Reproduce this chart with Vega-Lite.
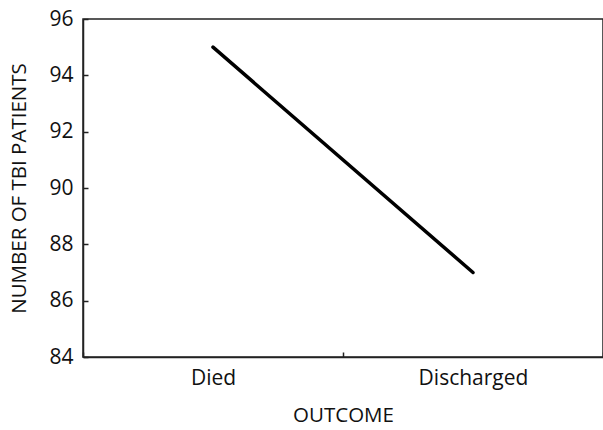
{
  "$schema": "https://vega.github.io/schema/vega-lite/v6.json",
  "width": 520,
  "height": 338,
  "autosize": {"type": "none"},
  "padding": {"left": 83, "top": 19, "right": 0, "bottom": 73},
  "background": "white",
  "config": {
    "font": "Open Sans",
    "view": {"stroke": "#222", "strokeWidth": 1.5},
    "axis": {
      "domainColor": "#222",
      "domainWidth": 1.5,
      "tickColor": "#222",
      "tickWidth": 1.5,
      "labelColor": "#111",
      "titleColor": "#111",
      "grid": false,
      "labelFont": "Open Sans",
      "titleFont": "Open Sans",
      "titleFontWeight": "normal"
    }
  },
  "data": {
    "values": [
      {"outcome": "Died", "patients": 95},
      {"outcome": "Discharged", "patients": 87}
    ]
  },
  "mark": {"type": "line", "color": "#000", "strokeWidth": 3.5, "strokeCap": "round"},
  "encoding": {
    "x": {
      "field": "outcome",
      "type": "nominal",
      "sort": ["Died", "Discharged"],
      "scale": {"type": "band", "paddingInner": 0, "paddingOuter": 0},
      "axis": {
        "title": "OUTCOME",
        "labelAngle": 0,
        "labelFontSize": 21,
        "titleFontSize": 20.5,
        "tickBand": "extent",
        "tickSize": -5,
        "labelPadding": 15,
        "titlePadding": 17
      }
    },
    "y": {
      "field": "patients",
      "type": "quantitative",
      "scale": {"domain": [84, 96], "nice": false, "zero": false},
      "axis": {
        "title": "NUMBER OF TBI PATIENTS",
        "values": [84, 86, 88, 90, 92, 94, 96],
        "labelFontSize": 21,
        "titleFontSize": 20.5,
        "tickSize": -5,
        "labelPadding": 15,
        "titlePadding": 19
      }
    }
  }
}
